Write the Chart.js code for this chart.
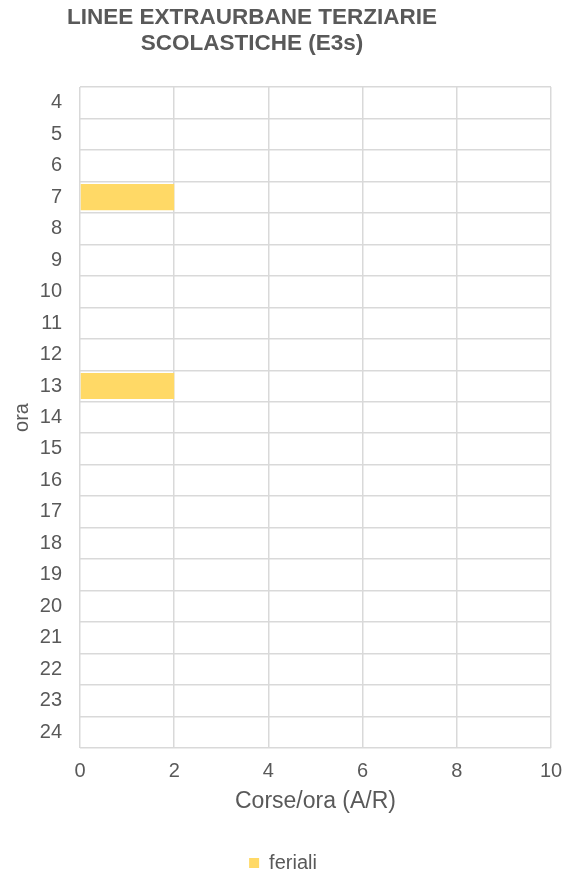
<!DOCTYPE html>
<html>
<head>
<meta charset="utf-8">
<script src="https://cdn.jsdelivr.net/npm/chart.js@4.4.0/dist/chart.umd.min.js"></script>
<style>
  html, body { margin: 0; padding: 0; background: #fff; }
  #wrap { width: 566px; height: 875px; }
</style>
</head>
<body>
<div id="wrap"><canvas id="chart" width="566" height="875"></canvas></div>
<script>
// dati
const ore = ["4", "5", "6", "7", "8", "9", "10", "11", "12", "13", "14", "15", "16", "17", "18", "19", "20", "21", "22", "23", "24"];
const feriali = [0, 0, 0, 2, 0, 0, 0, 0, 0, 2, 0, 0, 0, 0, 0, 0, 0, 0, 0, 0, 0];
const titleLines = ["LINEE EXTRAURBANE TERZIARIE", "SCOLASTICHE (E3s)"];

const FONT = "'Liberation Sans', Arial, sans-serif";
const GREY = "#595959";
const GRID = "#d9d9d9";

// titolo disegnato a mano (in Excel non è centrato sul canvas)
const titlePlugin = {
  id: "customTitle",
  afterDraw(chart) {
    const ctx = chart.ctx;
    ctx.save();
    ctx.fillStyle = GREY;
    ctx.font = `bold 22.5px ${FONT}`;
    ctx.textAlign = "center";
    ctx.textBaseline = "alphabetic";
    ctx.fillText(titleLines[0], 252, 24);
    ctx.fillText(titleLines[1], 252, 50);
    ctx.restore();
  },
};

new Chart(document.getElementById("chart"), {
  type: "bar",
  data: {
    labels: ore,
    datasets: [
      {
        label: "feriali",
        data: feriali,
        backgroundColor: "#FFD966",
        borderWidth: 0,
        barPercentage: 0.83,
        categoryPercentage: 1.0,
      },
    ],
  },
  options: {
    indexAxis: "y",
    responsive: false,
    animation: false,
    layout: {
      padding: { top: 87, right: 0, left: 0, bottom: -8 },
    },
    plugins: {
      title: { display: false },
      tooltip: { enabled: false },
      legend: {
        position: "bottom",
        labels: {
          font: { size: 20, family: FONT },
          color: GREY,
          boxWidth: 10,
          boxHeight: 10,
          padding: 5,
        },
      },
    },
    scales: {
      x: {
        min: 0,
        max: 10,
        afterFit(scale) {
          // solo metà etichetta ai lati, senza il padding dei tick
          scale.paddingLeft = 6;
          scale.paddingRight = 15;
        },
        ticks: {
          stepSize: 2,
          font: { size: 20, family: FONT, lineHeight: 1.0 },
          color: GREY,
          padding: 13,
        },
        grid: { color: GRID, lineWidth: 1.5, drawTicks: false },
        border: { display: false },
        title: {
          display: true,
          text: "Corse/ora (A/R)",
          font: { size: 23, family: FONT, lineHeight: 0.652 },
          color: GREY,
          padding: { top: 0, bottom: 39 },
        },
      },
      y: {
        afterFit(scale) {
          scale.width = 80;
        },
        ticks: {
          font: { size: 20, family: FONT },
          color: GREY,
          padding: 18,
          autoSkip: false,
        },
        grid: { color: GRID, lineWidth: 1.5, drawTicks: false, offset: true },
        border: { display: false },
        title: {
          display: true,
          text: "ora",
          font: { size: 20, family: FONT },
          color: GREY,
          padding: { top: 10, bottom: 0 },
        },
      },
    },
  },
  plugins: [titlePlugin],
});
</script>
</body>
</html>
